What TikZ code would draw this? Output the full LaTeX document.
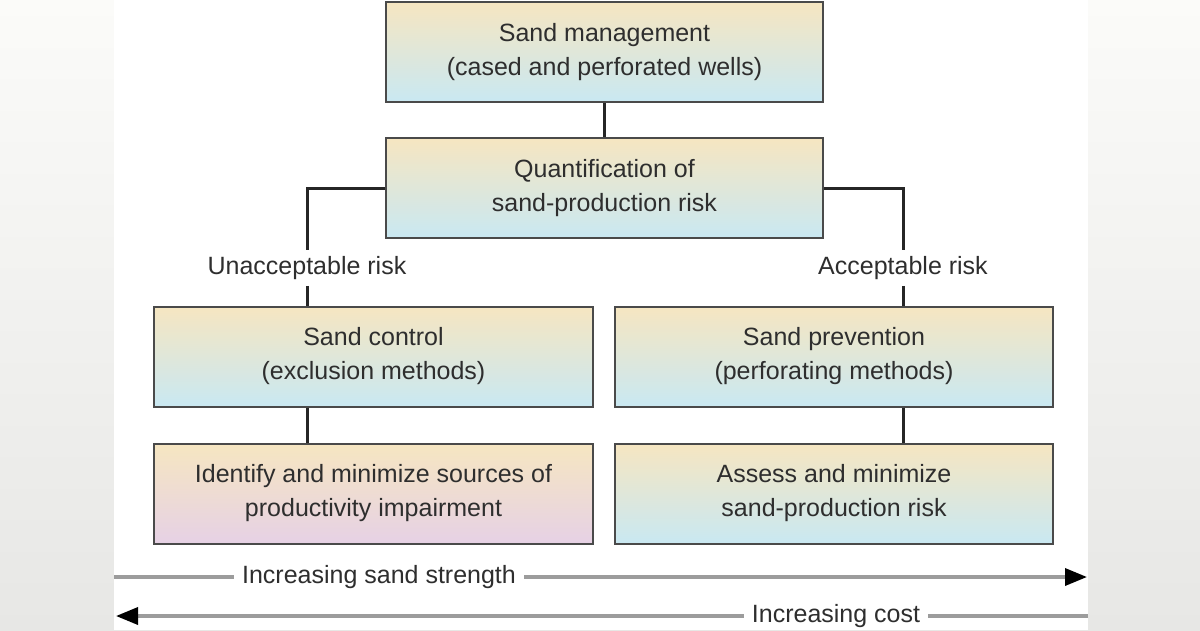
\documentclass[tikz,border=0pt]{standalone}
\usepackage{fontspec}
\setmainfont{Liberation Sans}
\usepackage{xcolor}
\usepackage{tikz}
\usetikzlibrary{arrows.meta, positioning, calc}
\definecolor{inkgray}{HTML}{2E2E2E}
\definecolor{edgegray}{HTML}{4A4A4A}
\definecolor{boxyellow}{HTML}{F6E6C1}
\definecolor{boxblue}{HTML}{C9E8F2}
\definecolor{boxpink}{HTML}{E6D1E5}
\definecolor{pagegray}{HTML}{E7E7E5}
\definecolor{pagelight}{HTML}{FBFBF9}
\definecolor{scalegray}{HTML}{9C9C9C}
\tikzstyle{stage} = [rectangle, draw=edgegray, line width=2pt, top color=boxyellow, bottom color=boxblue, text=inkgray, align=center, font=\fontsize{25}{34}\selectfont, minimum width=438pt, minimum height=100pt]
\tikzstyle{link} = [line width=3pt, color=black!85]

\begin{document}
\begin{tikzpicture}[x=1pt, y=-1pt,
    lbl/.style={font=\fontsize{25}{30}\selectfont, text=inkgray, inner xsep=8pt, inner ysep=6pt},
    trend/.style={line width=3.5pt, color=scalegray},
    tip/.style={-{Triangle[length=22pt, width=17pt, color=black]}}
  ]
    % ── Page background
    \useasboundingbox (0,0) rectangle (1200,630);
    \fill[top color=pagelight, bottom color=pagegray] (0,0) rectangle (1200,630);
    \fill[white] (114,0) rectangle (1088,630);

    % ── Top chain
    \node[stage, minimum width=437pt] (mgmt) at (604.5,52)
      {Sand management\\(cased and perforated wells)};
    \node[stage, minimum width=437pt] (quant) at (604.5,188)
      {Quantification of\\sand-production risk};

    % ── Branch labels
    \node[lbl] (unacc) at (307,268) {Unacceptable risk};
    \node[lbl] (acc) at (903,268) {Acceptable risk};

    % ── Left column
    \node[stage, minimum width=439pt] (ctrl) at (373.5,356.5)
      {Sand control\\(exclusion methods)};
    \node[stage, minimum width=439pt, bottom color=boxpink] (impair) at (373.5,493.5)
      {Identify and minimize sources of\\productivity impairment};

    % ── Right column
    \node[stage] (prev) at (834,356.5)
      {Sand prevention\\(perforating methods)};
    \node[stage] (assess) at (834,493.5)
      {Assess and minimize\\sand-production risk};

    % ── Scales
    \coordinate (sL) at (114,577);
    \coordinate (sR) at (1087,577);
    \coordinate (cL) at (116,616);
    \coordinate (cR) at (1088,616);
    \node[lbl] (strength) at (379,577) {Increasing sand strength};
    \node[lbl] (cost) at (836,616) {Increasing cost};

    % ── Connectors
    \draw[link] (mgmt) -- (quant);
    \draw[link] (quant.west) -| (unacc);
    \draw[link] (unacc) -- (unacc |- ctrl.north);
    \draw[link] (quant.east) -| (acc);
    \draw[link] (acc) -- (acc |- prev.north);
    \draw[link] (ctrl.south -| unacc) -- (impair.north -| unacc);
    \draw[link] (prev.south -| acc) -- (assess.north -| acc);
    \draw[trend] (sL) -- (strength.west);
    \draw[trend, tip] (strength.east) -- (sR);
    \draw[trend] (cR) -- (cost.east);
    \draw[trend, tip] (cost.west) -- (cL);
  \end{tikzpicture}
\end{document}
